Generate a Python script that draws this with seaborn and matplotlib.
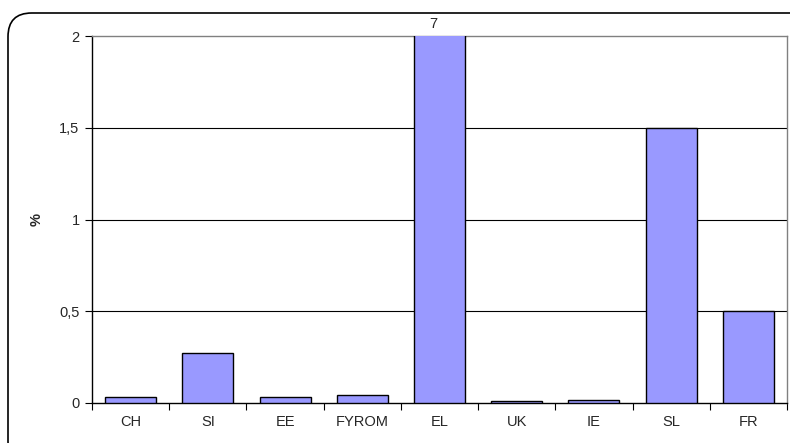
import matplotlib
matplotlib.use("Agg")
import matplotlib.pyplot as plt
import seaborn as sns
import pandas as pd
import numpy as np
from matplotlib.patches import FancyBboxPatch
from matplotlib.ticker import FixedFormatter, FixedLocator

countries = ["CH", "SI", "EE", "FYROM", "EL", "UK", "IE", "SL", "FR"]
values = [0.03, 0.27, 0.03, 0.045, 7, 0.01, 0.018, 1.5, 0.5]
y_ticks = [0, 0.5, 1, 1.5, 2]
y_tick_labels = ["0", "0,5", "1", "1,5", "2"]

sns.set_style("white")
plt.rcParams["font.family"] = ["Liberation Sans", "DejaVu Sans"]

df = pd.DataFrame({"country": countries, "value": values})

fig = plt.figure(figsize=(7.9, 4.43), dpi=100)
ax = fig.add_axes([0.1165, 0.0903, 0.8797, 0.8284])

sns.barplot(data=df, x="country", y="value", ax=ax, color="#9999FF",
            saturation=1, width=0.66, edgecolor="black", linewidth=1.0, zorder=3)

ax.set_ylim(0, 2)
ax.set_xlim(-0.5, len(countries) - 0.5)
ax.yaxis.set_major_locator(FixedLocator(y_ticks))
ax.yaxis.set_major_formatter(FixedFormatter(y_tick_labels))
ax.tick_params(axis="y", labelsize=10.5, length=5, width=0.8, color="black", direction="out", pad=4, left=True)
ax.set_xticks(range(len(countries)))
ax.set_xticklabels(countries, fontsize=10.5)
ax.tick_params(axis="x", which="major", length=0, pad=9)
ax.set_xticks(np.arange(-0.5, len(countries), 1), minor=True)
ax.tick_params(axis="x", which="minor", length=5, width=0.8, color="black", direction="out", bottom=True)

for y in [0.5, 1, 1.5]:
    ax.axhline(y, color="black", linewidth=0.8, zorder=1)

ax.set_xlabel("")
ax.set_ylabel("")
fig.text(37 / 790, 1 - 219 / 443, "%", rotation=90, ha="center", va="center",
         fontsize=10.5, fontweight="bold")

for s in ["left", "bottom"]:
    ax.spines[s].set_color("black")
    ax.spines[s].set_linewidth(1.0)
for s in ["top", "right"]:
    ax.spines[s].set_color("#808080")
    ax.spines[s].set_linewidth(1.0)

# label for clipped bar
idx = countries.index("EL")
ax.text(idx - 0.08, 2.025, str(values[idx]), ha="center", va="bottom", fontsize=10.5,
        transform=ax.transData, clip_on=False)

frame = FancyBboxPatch((8 / 790, -0.05), 1.1, 1 - 13 / 443 + 0.05,
                       boxstyle="round,pad=0,rounding_size=0.03",
                       transform=fig.transFigure, fill=False, edgecolor="black", linewidth=1.2,
                       mutation_aspect=790 / 443)
fig.patches.append(frame)

fig.savefig("out.png", dpi=100)
